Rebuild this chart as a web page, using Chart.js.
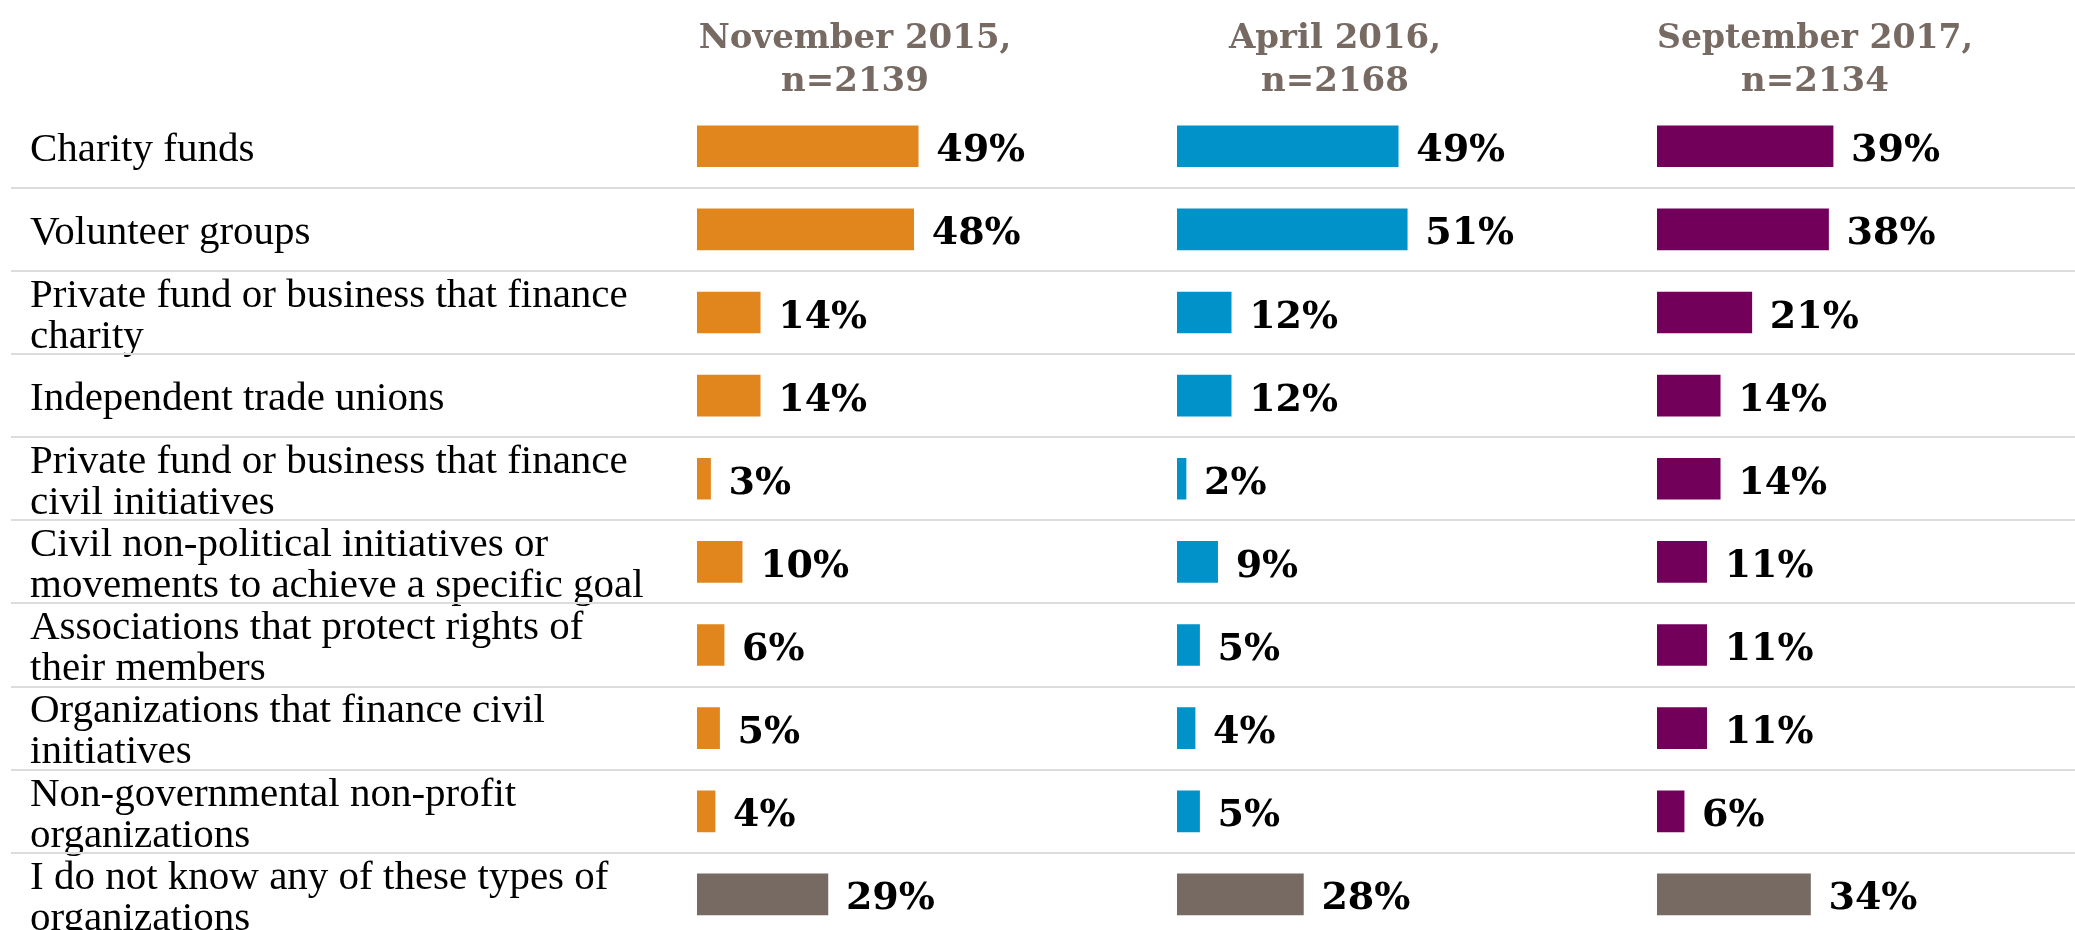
<!DOCTYPE html>
<html>
<head>
<meta charset="utf-8">
<script src="https://cdn.jsdelivr.net/npm/chart.js@4.4.1/dist/chart.umd.min.js"></script>
<style>
  html, body { margin: 0; padding: 0; background: #fff; overflow: hidden; }
  #wrap { position: relative; width: 2075px; height: 930px; overflow: hidden; }
  canvas { position: absolute; top: 0; }
</style>
</head>
<body>
<div id="wrap">
  <canvas id="col1" width="1177" height="940" style="left:0px"></canvas>
  <canvas id="col2" width="480" height="940" style="left:1177px"></canvas>
  <canvas id="col3" width="418" height="940" style="left:1657px"></canvas>
</div>
<script>
const categories = [
  "Charity funds",
  "Volunteer groups",
  ["Private fund or business that finance", "charity"],
  "Independent trade unions",
  ["Private fund or business that finance", "civil initiatives"],
  ["Civil non-political initiatives or", "movements to achieve a specific goal"],
  ["Associations that protect rights of", "their members"],
  ["Organizations that finance civil", "initiatives"],
  ["Non-governmental non-profit", "organizations"],
  ["I do not know any of these types of", "organizations"],
];
const headers = [
  ["November 2015,", "n=2139"],
  ["April 2016,", "n=2168"],
  ["September 2017,", "n=2134"],
];
const nov2015 = [49, 48, 14, 14, 3, 10, 6, 5, 4, 29];
const apr2016 = [49, 51, 12, 12, 2, 9, 5, 4, 5, 28];
const sep2017 = [39, 38, 21, 14, 14, 11, 11, 11, 6, 34];

const GREY = "#766a63";

// thin rules between the rows, across the whole canvas
const separators = {
  id: "separators",
  beforeDatasetsDraw(chart, args, opts) {
    const y = chart.scales.y;
    const ctx = chart.ctx;
    ctx.save();
    ctx.strokeStyle = "#dedcda";
    ctx.lineWidth = 2;
    for (let i = 0; i < categories.length - 1; i++) {
      const yy = Math.round((y.getPixelForValue(i) + y.getPixelForValue(i + 1)) / 2);
      ctx.beginPath();
      ctx.moveTo(opts.left || 0, yy);
      ctx.lineTo(chart.width, yy);
      ctx.stroke();
    }
    ctx.restore();
  },
};

// "49%" next to each bar
const valueLabels = {
  id: "valueLabels",
  afterDatasetsDraw(chart) {
    const ctx = chart.ctx;
    const meta = chart.getDatasetMeta(0);
    const data = chart.data.datasets[0].data;
    ctx.save();
    ctx.font = "bold 38px 'DejaVu Serif'";
    ctx.fillStyle = "#000";
    ctx.textBaseline = "alphabetic";
    meta.data.forEach((bar, i) => {
      ctx.fillText(data[i] + "%", bar.x + 18, bar.y + 15);
    });
    ctx.restore();
  },
};

function makeChart(id, values, color, header, withLabels, rightPad) {
  const colors = values.map((v, i) => (i === values.length - 1 ? GREY : color));
  return new Chart(document.getElementById(id), {
    type: "bar",
    data: {
      labels: categories,
      datasets: [
        {
          data: values,
          backgroundColor: colors,
          borderWidth: 0,
          barThickness: 41,
        },
      ],
    },
    options: {
      indexAxis: "y",
      responsive: false,
      animation: false,
      devicePixelRatio: 1,
      layout: {
        padding: { left: withLabels ? 30 : 0, right: rightPad, top: 0, bottom: 4 },
      },
      plugins: {
        legend: { display: false },
        tooltip: { enabled: false },
        separators: { left: withLabels ? 11 : 0 },
        title: {
          display: true,
          text: header,
          fullSize: false,
          color: GREY,
          font: { family: "DejaVu Serif", weight: "bold", size: 34, lineHeight: 1.26 },
          padding: { top: 18, bottom: 1 },
        },
      },
      scales: {
        x: { display: false, min: 0, max: 70 },
        y: {
          display: withLabels,
          grid: { display: false },
          border: { display: false },
          afterFit: (scale) => {
            if (!withLabels) return;
            scale.width = 667;
            // the last label may hang below the canvas, like the original
            scale.paddingTop = 0;
            scale.paddingBottom = 0;
          },
          ticks: {
            crossAlign: "far",
            autoSkip: false,
            labelOffset: 4,
            color: "#000",
            font: { family: "Liberation Serif", size: 41, lineHeight: 1.0 },
          },
        },
      },
    },
    plugins: [separators, valueLabels],
  });
}

document.addEventListener("DOMContentLoaded", () => {
  makeChart("col1", nov2015, "#e1861c", headers[0], true, 164);
  makeChart("col2", apr2016, "#0092c9", headers[1], false, 164);
  makeChart("col3", sep2017, "#72005a", headers[2], false, 102);
});
</script>
</body>
</html>
